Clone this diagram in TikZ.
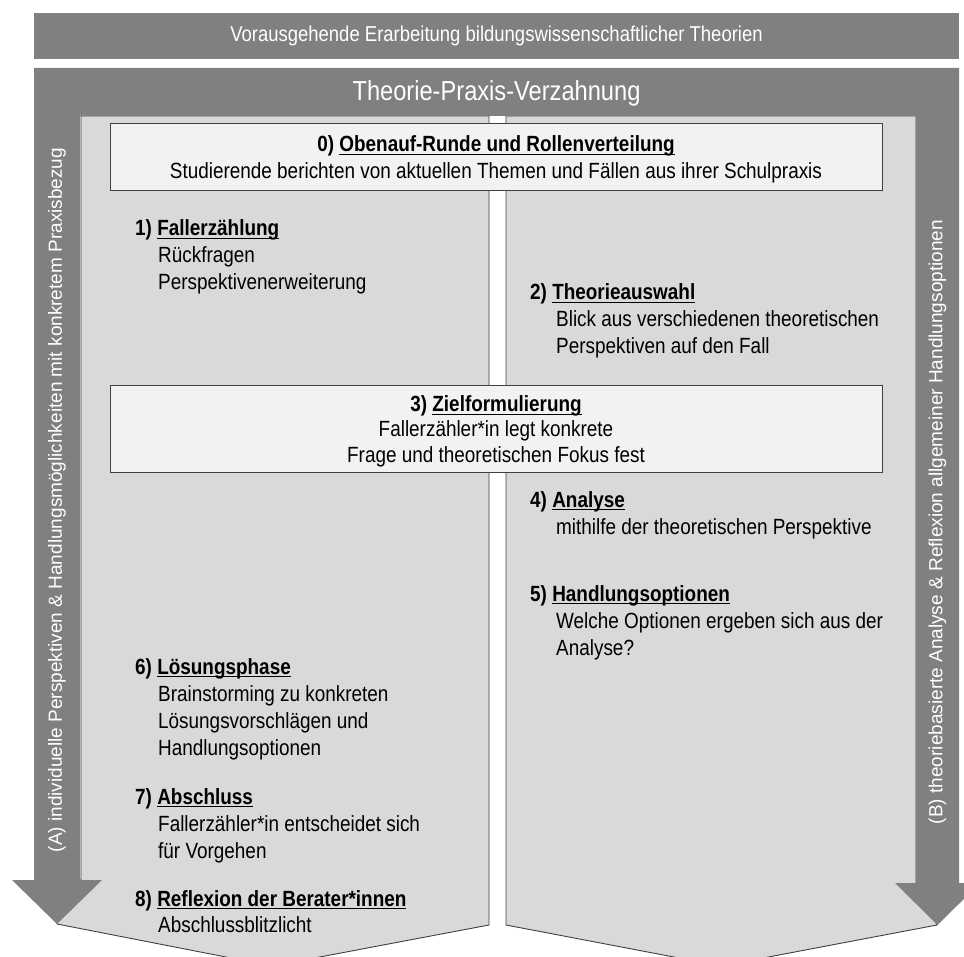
\documentclass[tikz,border=0pt]{standalone}
\usepackage{fontspec}
\setmainfont[FakeStretch=0.86]{Liberation Sans}
\newfontfamily\widefont{Liberation Sans}
\definecolor{dgray}{HTML}{808080}
\definecolor{lgray}{HTML}{D9D9D9}
\definecolor{boxfill}{HTML}{F2F2F2}
\definecolor{edge}{HTML}{404040}
\newcommand\ulin[1]{\setbox0\hbox{#1}\rlap{\rule[-3pt]{\wd0}{1.4pt}}\box0}
\newcommand\bodyfont{\fontsize{22}{27}\selectfont}
\begin{document}
\begin{tikzpicture}[x=1pt,y=-1pt,
  txt/.style={anchor=base west, inner sep=0pt, font=\bodyfont, text=black},
  ttl/.style={txt, font=\bodyfont\bfseries},
  ctr/.style={anchor=base, inner sep=0pt, font=\bodyfont, text=black},
  ctrb/.style={ctr, font=\bodyfont\bfseries},
  band/.style={fill=dgray, draw=none},
  chev/.style={fill=lgray, draw=edge, line width=0.9pt, line join=miter},
  wbox/.style={fill=boxfill, draw=edge, line width=0.9pt},
  vert/.style={rotate=90, inner sep=0pt, text=white, font=\widefont\fontsize{19}{22}\selectfont}
]
\useasboundingbox (0,0) rectangle (964,957);
\clip (0,0) rectangle (964,957);

% top bar
\node[band, minimum width=925pt, minimum height=46pt, inner sep=0pt, text=white,
      font=\fontsize{21.5}{24}\selectfont] (top) at (496.5,36)
  {Vorausgehende Erarbeitung bildungswissenschaftlicher Theorien};

% light chevrons
\path[chev] (81,116) -- (489,116) -- (489,925) -- (272,966) -- (57,924) -- (57,880) -- (81,880) -- cycle;
\path[chev] (506,116) -- (916,116) -- (916,883) -- (937,925) -- (721,966) -- (506,925) -- cycle;

% dark frame with arrows
\path[band] (34,68) -- (959,68) -- (959,883) -- (980,883) -- (937.5,925) -- (895,883)
  -- (916,883) -- (916,116) -- (80,116) -- (80,880) -- (102,880) -- (57,924) -- (12,880)
  -- (34,880) -- cycle;
\node[inner sep=0pt, text=white, font=\fontsize{27.5}{30}\selectfont] (tpv) at (496.5,93) {Theorie-Praxis-Verzahnung};

\node[vert] (va) at (57,500) {(A) individuelle Perspektiven \& Handlungsmöglichkeiten mit konkretem Praxisbezug};
\node[vert] (vb) at (937.5,522) {(B) theoriebasierte Analyse \& Reflexion allgemeiner Handlungsoptionen};

% box 0
\path[wbox] (110,123) rectangle (882,190);
\node[ctrb] (b0a) at (496,152) {0) \ulin{Obenauf-Runde und Rollenverteilung}};
\node[ctr] (b0b) at (496,179) {Studierende berichten von aktuellen Themen und Fällen aus ihrer Schulpraxis};

% box 3
\path[wbox] (110,385) rectangle (882,472);
\node[ctrb] (b3a) at (496,412) {3) \ulin{Zielformulierung}};
\node[ctr] (b3b) at (496,437) {Fallerzähler*in legt konkrete};
\node[ctr] (b3c) at (496,462) {Frage und theoretischen Fokus fest};

% left column
\node[ttl] (s1) at (135,236) {1) \ulin{Fallerzählung}};
\node[txt] (s1a) at (158,263) {Rückfragen};
\node[txt] (s1b) at (158,290) {Perspektivenerweiterung};

\node[ttl] (s6) at (135,674) {6) \ulin{Lösungsphase}};
\node[txt] (s6a) at (158,701) {Brainstorming zu konkreten};
\node[txt] (s6b) at (158,728) {Lösungsvorschlägen und};
\node[txt] (s6c) at (158,755) {Handlungsoptionen};

\node[ttl] (s7) at (135,804) {7) \ulin{Abschluss}};
\node[txt] (s7a) at (158,831) {Fallerzähler*in entscheidet sich};
\node[txt] (s7b) at (158,858) {für Vorgehen};

\node[ttl] (s8) at (135,906) {8) \ulin{Reflexion der Berater*innen}};
\node[txt] (s8a) at (158,932) {Abschlussblitzlicht};

% right column
\node[ttl] (s2) at (530,300) {2) \ulin{Theorieauswahl}};
\node[txt] (s2a) at (556,327) {Blick aus verschiedenen theoretischen};
\node[txt] (s2b) at (556,354) {Perspektiven auf den Fall};

\node[ttl] (s4) at (530,507) {4) \ulin{Analyse}};
\node[txt] (s4a) at (556,534) {mithilfe der theoretischen Perspektive};

\node[ttl] (s5) at (530,601) {5) \ulin{Handlungsoptionen}};
\node[txt] (s5a) at (556,628) {Welche Optionen ergeben sich aus der};
\node[txt] (s5b) at (556,655) {Analyse?};
\end{tikzpicture}
\end{document}
